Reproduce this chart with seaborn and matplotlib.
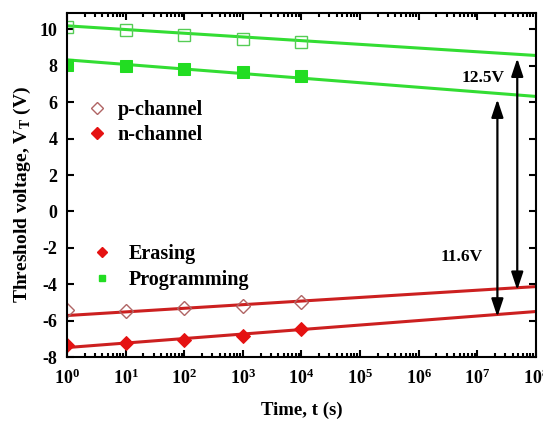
import numpy as np
import pandas as pd
import seaborn as sns
import matplotlib.pyplot as plt
import matplotlib.ticker as ticker
from matplotlib.lines import Line2D

# Datos
t_medido = [1, 10, 100, 1000, 10000]
vt_prog_p = [10.15, 9.95, 9.7, 9.5, 9.3]
vt_prog_n = [8.05, 8.0, 7.85, 7.67, 7.45]
vt_borr_p = [-5.44, -5.47, -5.31, -5.2, -4.98]
vt_borr_n = [-7.33, -7.24, -7.05, -6.83, -6.46]

# Rectas de extrapolación (extremos)
t_ajuste = [1, 1e8]
aj_prog_p = [10.2, 8.57]
aj_prog_n = [8.33, 6.32]
aj_borr_p = [-5.72, -4.13]
aj_borr_n = [-7.48, -5.5]

# Flechas de ventana de memoria
ventana_t = [4.8e7, 2.2e7]
ventana_sup = [8.41, 6.16]
ventana_inf = [-4.32, -5.79]
ventana_txt = ['12.5V', '11.6V']
ventana_txt_pos = [(1.26e7, 7.31), (5.5e6, -2.51)]

sns.set_style('ticks')
plt.rcParams['font.family'] = ['Liberation Serif', 'DejaVu Serif']
plt.rcParams['font.weight'] = 'bold'
plt.rcParams['mathtext.fontset'] = 'custom'
plt.rcParams['mathtext.rm'] = 'Liberation Serif:bold'
plt.rcParams['mathtext.bf'] = 'Liberation Serif:bold'
plt.rcParams['axes.unicode_minus'] = False
for k in ['text.color', 'axes.labelcolor', 'xtick.color', 'ytick.color', 'axes.edgecolor']:
    plt.rcParams[k] = 'black'

verde = '#33dd33'
rojo_linea = '#cc2020'
rojo = '#e51212'
marron = '#b06464'

fig = plt.figure(figsize=(5.43, 4.22), dpi=100)
ax = fig.add_axes([0.1234, 0.154, 0.8636, 0.815])
ax.set_xscale('log')

# Rectas
for v, c in [(aj_prog_p, verde), (aj_prog_n, verde), (aj_borr_p, rojo_linea), (aj_borr_n, rojo_linea)]:
    sns.lineplot(x=t_ajuste, y=v, color=c, lw=2.2, ax=ax)

# Puntos medidos
sns.lineplot(x=t_medido, y=vt_prog_p, ax=ax, linestyle='none', marker='s', markersize=8.5,
             markerfacecolor='none', markeredgecolor='#55cc55', markeredgewidth=1.0, color='#55cc55')
sns.lineplot(x=t_medido, y=vt_prog_n, ax=ax, linestyle='none', marker='s', markersize=8,
             markerfacecolor='#22dd22', markeredgecolor='#22dd22', color='#22dd22')
sns.lineplot(x=t_medido, y=vt_borr_p, ax=ax, linestyle='none', marker='D', markersize=7,
             markerfacecolor='none', markeredgecolor=marron, markeredgewidth=1.0, color=marron)
sns.lineplot(x=t_medido, y=vt_borr_n, ax=ax, linestyle='none', marker='D', markersize=7,
             markerfacecolor=rojo, markeredgecolor=rojo, color=rojo)

# Flechas
for x, y1, y2 in zip(ventana_t, ventana_sup, ventana_inf):
    ax.annotate('', xy=(x, y1), xytext=(x, y2),
                arrowprops=dict(arrowstyle='<|-|>,head_length=0.9,head_width=0.3', color='black', lw=1.6,
                                mutation_scale=12, shrinkA=0, shrinkB=0))
for txt, (x, y) in zip(ventana_txt, ventana_txt_pos):
    ax.text(x, y, txt, fontsize=12.5, fontweight='bold', ha='center', va='center')

ax.set_xlim(1, 1e8)
ax.set_ylim(-8, 10.9)
ax.xaxis.set_major_locator(ticker.LogLocator(base=10, numticks=20))
ax.xaxis.set_minor_locator(ticker.LogLocator(base=10, subs=np.arange(2, 10), numticks=20))
ax.xaxis.set_minor_formatter(ticker.NullFormatter())
ax.xaxis.set_major_formatter(ticker.FuncFormatter(lambda v, p: r'$\mathbf{10^{%d}}$' % round(np.log10(v))))
ax.yaxis.set_major_locator(ticker.MultipleLocator(2))
ax.tick_params(which='both', direction='in', top=True, right=True, width=1.5, labelsize=13)
ax.tick_params(which='major', length=5)
ax.tick_params(which='minor', length=3)
ax.tick_params(axis='y', pad=7)
ax.tick_params(axis='x', pad=8)
for s in ax.spines.values():
    s.set_linewidth(1.5)

ax.set_xlabel('Time, t (s)', fontsize=13.5, fontweight='bold', labelpad=10)
ax.set_ylabel(r'Threshold voltage, V$_\mathbf{T}$ (V)', fontsize=14, fontweight='bold')
ax.yaxis.set_label_coords(-0.073, 0.471)

# Leyendas
h1 = [Line2D([], [], linestyle='none', marker='D', markersize=6.5, markerfacecolor='none',
             markeredgecolor=marron, markeredgewidth=1.0),
      Line2D([], [], linestyle='none', marker='D', markersize=6.5, markerfacecolor=rojo, markeredgecolor=rojo)]
leg1 = ax.legend(h1, ['p-channel', 'n-channel'], loc='upper left', bbox_to_anchor=(0.0, 0.80),
                 frameon=False, fontsize=14.5, handletextpad=0.4, handlelength=1.2, labelspacing=0.25)
ax.add_artist(leg1)
h2 = [Line2D([], [], linestyle='none', marker='D', markersize=5, markerfacecolor=rojo, markeredgecolor=rojo),
      Line2D([], [], linestyle='none', marker='s', markersize=5, markerfacecolor='#22dd22', markeredgecolor='#22dd22')]
ax.legend(h2, ['Erasing', 'Programming'], loc='upper left', bbox_to_anchor=(0.01, 0.38),
          frameon=False, fontsize=14.5, handletextpad=0.75, handlelength=1.2, labelspacing=0.3)

fig.savefig('out.png', dpi=100)
